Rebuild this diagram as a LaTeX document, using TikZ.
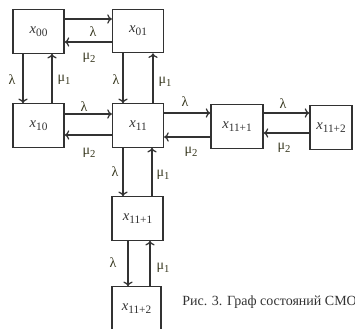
\documentclass[tikz,border=0pt]{standalone}
\usepackage{fontspec}
\setmainfont{Liberation Serif}
\usetikzlibrary{arrows.meta}
\definecolor{ln}{RGB}{50,50,50}
\definecolor{lab}{RGB}{55,55,30}
\newcommand{\sx}[1]{\textit{x}\raisebox{-0.45ex}{\fontsize{8.5}{9}\selectfont #1}}
\newcommand{\msub}[1]{μ\raisebox{-0.45ex}{\fontsize{8}{9}\selectfont #1}}
\tikzset{
  st/.style={draw=ln, line width=0.9pt, minimum width=#1*0.75pt, minimum height=32.5pt, inner sep=0pt, font=\fontsize{11}{12}\selectfont, text=ln},
  st/.default=51,
  ar/.style={draw=ln, line width=0.9pt, -{To[length=3.5pt,width=7pt]}},
  lb/.style={text=lab, font=\fontsize{10.5}{11}\selectfont, inner sep=0pt}
}
\begin{document}
\begin{tikzpicture}[x=0.75pt,y=-0.75pt]
\useasboundingbox (0,0) rectangle (355,329);
\node[st] (x00) at (38.5,31.5) {\sx{00}};
\node[st] (x01) at (138,31) {\sx{01}};
\node[st] (x10) at (38.5,125.5) {\sx{10}};
\node[st] (x11) at (138,125.5) {\sx{11}};
\node[st=52] (r1) at (237,126.5) {\sx{11+1}};
\node[st=42] (r2) at (331,127.5) {\sx{11+2}};
\node[st] (b1) at (137.5,218.5) {\sx{11+1}};
\node[st=49] (b2) at (136.5,308.5) {\sx{11+2}};
% horizontal
\draw[ar] (x00.east |- 0,19) -- (x01.west |- 0,19);
\draw[ar] (x01.west |- 0,42) -- (x00.east |- 0,42);
\draw[ar] (x10.east |- 0,114) -- (x11.west |- 0,114);
\draw[ar] (x11.west |- 0,135) -- (x10.east |- 0,135);
\draw[ar] (x11.east |- 0,113) -- (r1.west |- 0,113);
\draw[ar] (r1.west |- 0,137) -- (x11.east |- 0,137);
\draw[ar] (r1.east |- 0,113) -- (r2.west |- 0,113);
\draw[ar] (r2.west |- 0,133) -- (r1.east |- 0,133);
% vertical
\draw[ar] (x00.south -| 23,0) -- (x10.north -| 23,0);
\draw[ar] (x10.north -| 52,0) -- (x00.south -| 52,0);
\draw[ar] (x01.south -| 123,0) -- (x11.north -| 123,0);
\draw[ar] (x11.north -| 153,0) -- (x01.south -| 153,0);
\draw[ar] (x11.south -| 123,0) -- (b1.north -| 123,0);
\draw[ar] (b1.north -| 152,0) -- (x11.south -| 152,0);
\draw[ar] (b1.south -| 128,0) -- (b2.north -| 128,0);
\draw[ar] (b2.north -| 150,0) -- (b1.south -| 150,0);
% labels
\node[lb] (l1) at (93,32) {λ};
\node[lb] (m1) at (89,58) {\msub{2}};
\node[lb] (l2) at (12,80) {λ};
\node[lb] (m2) at (64,80) {\msub{1}};
\node[lb] (l3) at (116,80) {λ};
\node[lb] (m3) at (165,82) {\msub{1}};
\node[lb] (l4) at (84,107) {λ};
\node[lb] (m4) at (89,153) {\msub{2}};
\node[lb] (l5) at (185,102) {λ};
\node[lb] (m5) at (191,152) {\msub{2}};
\node[lb] (l6) at (283,104) {λ};
\node[lb] (m6) at (284,148) {\msub{2}};
\node[lb] (l7) at (115,172) {λ};
\node[lb] (m7) at (163,175) {\msub{1}};
\node[lb] (l8) at (113,263) {λ};
\node[lb] (m8) at (163,268) {\msub{1}};
\node[anchor=west, text=ln, font=\fontsize{10.5}{12}\selectfont, inner sep=0pt] (cap) at (182,302) {Рис. 3. Граф состояний СМО};
\end{tikzpicture}
\end{document}
